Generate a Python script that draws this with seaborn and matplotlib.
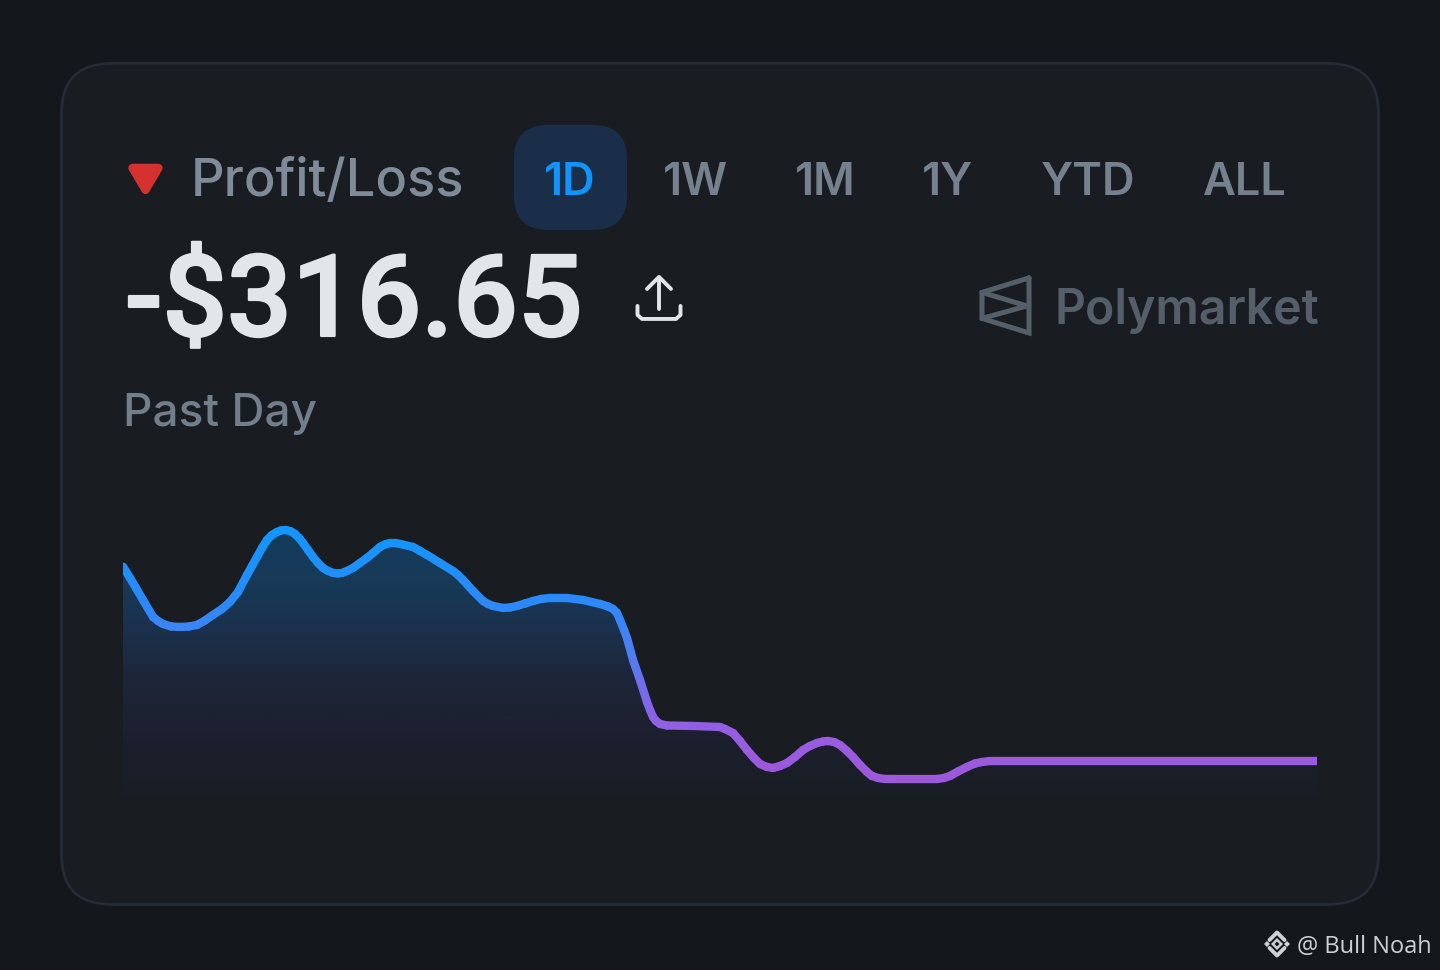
import numpy as np
import pandas as pd
import matplotlib
matplotlib.use('Agg')
import matplotlib.pyplot as plt
import matplotlib.patheffects as pe
import seaborn as sns
from matplotlib.colors import LinearSegmentedColormap
from matplotlib.patches import FancyBboxPatch, Polygon

# position along the day, height above the bottom of the area
pl_x = [0, 7, 13, 20, 30, 35, 40, 48, 57, 66, 74, 82, 90, 99, 107, 115, 124, 129, 134, 139, 144, 149,
        154, 158, 163, 168, 172, 176, 180, 185, 190, 195, 200, 205, 210, 215, 219, 224, 230, 237, 244,
        250, 257, 262, 267, 272, 277, 290, 297, 304, 317, 330, 335, 340, 350, 360, 365, 370, 380, 387,
        394, 402, 410, 418, 427, 444, 460, 477, 485, 490, 494, 497, 501, 504, 510, 517, 524, 527, 530,
        533, 537, 544, 570, 597, 602, 610, 617, 624, 631, 637, 644, 650, 657, 664, 672, 680, 687, 694,
        700, 705, 711, 717, 724, 730, 737, 744, 749, 755, 762, 770, 814, 821, 827, 835, 844, 852, 859,
        867, 874, 1194]
pl_y = [238.3, 227, 217, 205, 188, 184, 181, 178.5, 178, 178.5, 180, 184.5, 190, 196, 203, 213, 230, 239,
        248, 257, 265, 270, 273, 274.5, 275, 273.5, 271, 267, 262, 255, 248, 242, 237, 234, 232, 231.5,
        232, 234, 237, 242, 247, 252, 258, 260.5, 262, 262, 261, 258, 254, 250, 242, 234, 230, 225, 214,
        204, 201, 199, 197, 197.5, 199, 201.5, 204, 206, 207, 207, 205, 201, 198.5, 196, 192, 185, 175,
        167, 145, 125, 103, 95, 88, 84, 81, 79.5, 79, 78, 76, 72, 64, 55, 47, 41, 38, 37, 39, 42, 48, 55,
        59, 62, 63.5, 64, 63, 60, 54, 48, 40, 33, 29, 27, 26, 26, 26, 27, 29, 33.5, 38, 41.5, 43, 44, 44, 44]

tab_labels = ['1D', '1W', '1M', '1Y', 'YTD', 'ALL']
tab_centers = [570, 695, 825, 947, 1088, 1245]

BG = '#14181d'
CARD = '#191d22'
BORDER = '#262d37'
GREY = '#7f8b98'

sns.set_theme(style='dark', rc={'figure.facecolor': BG, 'axes.facecolor': 'none'})
plt.rcParams['font.family'] = ['Inter', 'DejaVu Sans']

fig = plt.figure(figsize=(14.4, 9.701), dpi=100)

# page layer, one unit is one pixel
bg = fig.add_axes([0, 0, 1, 1])
bg.set_xlim(0, 1440)
bg.set_ylim(970, 0)
bg.axis('off')

bg.add_patch(FancyBboxPatch((61.5, 63.5), 1317, 841, boxstyle='round,pad=0,rounding_size=50',
                            fc=CARD, ec=BORDER, lw=1.8))
bg.add_patch(FancyBboxPatch((514, 125), 113, 105, boxstyle='round,pad=0,rounding_size=34',
                            fc='#1a2e4a', ec='none'))

# red triangle
bg.add_patch(Polygon([[132.5, 168], [158.5, 168], [145.5, 190]], closed=True, fc='#d5312f', ec='#d5312f',
                     lw=6, joinstyle='round'))

bg.text(191, 196, 'Profit/Loss', fontsize=37.7, fontweight='medium', color=GREY, va='baseline')
for label, cx in zip(tab_labels, tab_centers):
    bg.text(cx, 195, label, fontsize=32.5, fontweight='semibold', ha='center', va='baseline',
            color='#0f95fb' if label == '1D' else '#75818e')

# roboto is close to the narrow digits here, a thin stroke brings the weight up
bg.text(125, 336, '-$316.65', fontsize=82, fontweight='medium', color='#e2e6ea', va='baseline',
        family=['Roboto', 'DejaVu Sans'],
        path_effects=[pe.withStroke(linewidth=1.6, foreground='#e2e6ea')])
bg.text(123, 426, 'Past Day', fontsize=33, fontweight='medium', color='#727e8b', va='baseline')

# share icon
bg.plot([659, 659], [278, 309], color='#e2e6ea', lw=2.8, solid_capstyle='round')
bg.plot([647, 659, 671], [289, 277, 289], color='#e2e6ea', lw=2.8, solid_capstyle='round', solid_joinstyle='round')
bg.plot([637.5, 637.5, 642, 676, 680.5, 680.5], [306, 315, 319, 319, 315, 306], color='#e2e6ea', lw=2.8,
        solid_capstyle='round', solid_joinstyle='round')

# polymarket logo
logo = '#555f69'
bg.plot([1029, 1029, 982, 982, 1029], [278, 333, 318.5, 292.5, 278], color=logo, lw=3.6, solid_joinstyle='miter')
bg.plot([982, 1027, 982], [292.5, 306, 318.5], color=logo, lw=3.6, solid_joinstyle='bevel')
bg.text(1055, 324, 'Polymarket', fontsize=34.7, fontweight='semibold', color=logo, va='baseline')

# watermark
wm = '#cdd1d5'
bg.add_patch(Polygon([[1277, 938], [1283, 944], [1277, 950], [1271, 944]], fc=wm, ec='none'))
bg.add_patch(Polygon([[1277, 941.5], [1279.5, 944], [1277, 946.5], [1274.5, 944]], fc=BG, ec='none'))
bg.plot([1269.5, 1277, 1284.5], [940, 932.5, 940], color=wm, lw=2.8)
bg.plot([1269.5, 1277, 1284.5], [948, 955.5, 948], color=wm, lw=2.8)
bg.add_patch(Polygon([[1267, 941], [1270, 944], [1267, 947], [1264, 944]], fc=wm, ec='none'))
bg.add_patch(Polygon([[1287, 941], [1290, 944], [1287, 947], [1284, 944]], fc=wm, ec='none'))
bg.text(1297, 953, '@ Bull Noah', fontsize=17, color=wm, va='baseline', family=['Open Sans', 'DejaVu Sans'])

# chart layer: x 123-1317, y 460-805 in the picture
ax = fig.add_axes([123 / 1440, 1 - 805 / 970, 1194 / 1440, 345 / 970])

# area under the line, vertical fade clipped to it
area = ax.fill_between(pl_x, pl_y, 0, color='none', lw=0)
fade = LinearSegmentedColormap.from_list('fade', [(0, '#191d22'), (0.08, '#1a1e27'), (0.3, '#1d2131'),
                                                  (0.45, '#1d2639'), (0.62, '#1b304c'), (0.8, '#173a58'),
                                                  (1, '#153c5c')])
im = ax.imshow(np.linspace(1, 0, 300).reshape(-1, 1), cmap=fade, aspect='auto', extent=[0, 1194, 0, 280],
               vmin=0, vmax=1, zorder=1)
im.set_clip_path(area.get_paths()[0], transform=ax.transData)

# line with colour following its height
line_cmap = LinearSegmentedColormap.from_list('line', [(0, '#9c59dc'), (0.18, '#985de2'), (0.32, '#7a69ec'),
                                                       (0.5, '#4c7ff3'), (0.72, '#2a8af8'), (1, '#1296ff')])
rows = []
colors = {}
for i in range(len(pl_x) - 1):
    mid = (pl_y[i] + pl_y[i + 1]) / 2
    colors[i] = line_cmap((mid - 26) / (275 - 26))
    rows.append({'x': pl_x[i], 'y': pl_y[i], 'seg': i})
    rows.append({'x': pl_x[i + 1], 'y': pl_y[i + 1], 'seg': i})
df = pd.DataFrame(rows)
sns.lineplot(data=df, x='x', y='y', hue='seg', palette=colors, legend=False, estimator=None, sort=False,
             linewidth=6, solid_capstyle='round', ax=ax, zorder=3)
ax.set_xlim(0, 1194)
ax.set_ylim(0, 345)
ax.axis('off')

fig.savefig('out.png', dpi=100, facecolor=BG)
